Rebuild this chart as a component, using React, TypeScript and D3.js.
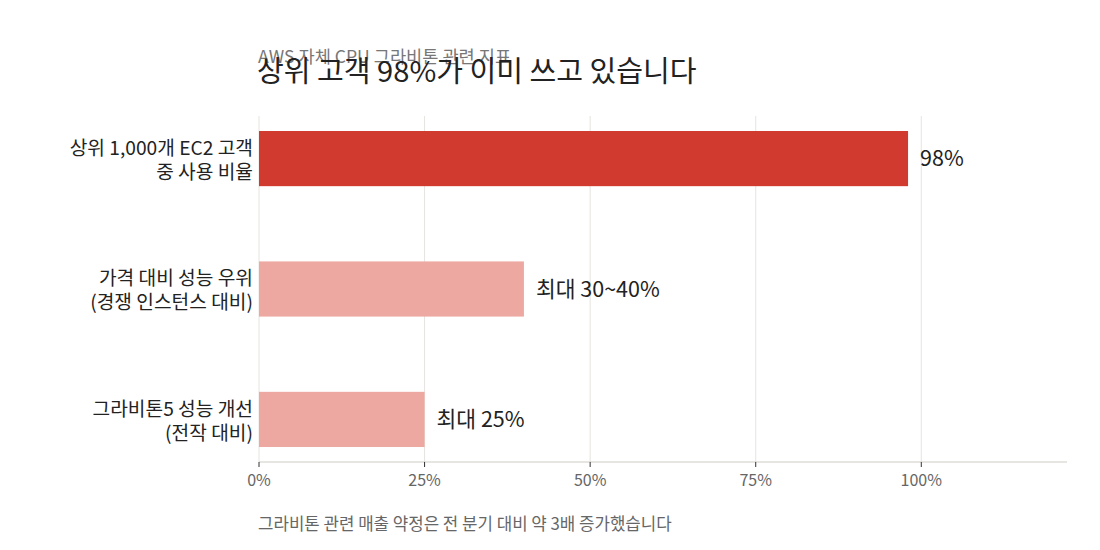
import React from "react";
import * as d3 from "d3";

const categories: string[][] = [
  ["상위 1,000개 EC2 고객", "중 사용 비율"],
  ["가격 대비 성능 우위", "(경쟁 인스턴스 대비)"],
  ["그라비톤5 성능 개선", "(전작 대비)"],
];
const values: number[] = [98, 40, 25];
const valueLabels: string[] = ["98%", "최대 30~40%", "최대 25%"];
const barColors: string[] = ["#d13a2f", "#eca8a1", "#eca8a1"];
const tickValues: number[] = [0, 25, 50, 75, 100];

const title = "상위 고객 98%가 이미 쓰고 있습니다";
const subtitle = "AWS 자체 CPU 그라비톤 관련 지표";
const footnote = "그라비톤 관련 매출 약정은 전 분기 대비 약 3배 증가했습니다";

const W = 1100;
const H = 550;
const left = 259;
const right = 1067;
const top = 116;
const bottom = 462;
const font = "'Noto Sans CJK KR', 'Noto Sans', sans-serif";

export default function App() {
  const x = d3.scaleLinear().domain([0, 122]).range([left, right]);
  const y = d3
    .scaleBand<number>()
    .domain(values.map((_, i) => i))
    .range([top, bottom])
    .paddingInner(0.577)
    .paddingOuter(0.115);

  return (
    <svg
      width={W}
      height={H}
      style={{ position: "absolute", left: 0, top: 0, background: "#fff" }}
      fontFamily={font}
    >
      {tickValues.map((t) => (
        <line key={"g" + t} x1={x(t)} x2={x(t)} y1={top} y2={bottom} stroke="#e6e4df" strokeWidth={1} />
      ))}
      {values.map((v, i) => (
        <rect key={"b" + i} x={x(0)} y={y(i)!} width={x(v) - x(0)} height={y.bandwidth()} fill={barColors[i]} />
      ))}
      {values.map((v, i) => (
        <text
          key={"v" + i}
          x={x(v) + 12}
          y={y(i)! + y.bandwidth() / 2}
          dy="0.35em"
          fontSize={21.5}
          fill="#222"
        >
          {valueLabels[i]}
        </text>
      ))}
      {categories.map((lines, i) => (
        <text key={"c" + i} x={253} y={y(i)! + y.bandwidth() / 2} fontSize={19.2} fill="#222" textAnchor="end">
          <tspan x={253} dy="-0.2em">{lines[0]}</tspan>
          <tspan x={253} dy="1.25em">{lines[1]}</tspan>
        </text>
      ))}
      <line x1={left} x2={right} y1={bottom} y2={bottom} stroke="#cfccc4" strokeWidth={1} />
      {tickValues.map((t) => (
        <g key={"t" + t}>
          <line x1={x(t)} x2={x(t)} y1={bottom} y2={bottom + 5} stroke="#333" strokeWidth={1} />
          <text x={x(t)} y={486} fontSize={16} fill="#666" textAnchor="middle">
            {t + "%"}
          </text>
        </g>
      ))}
      <text x={258} y={63} fontSize={17.6} fill="#777">{subtitle}</text>
      <text x={257} y={82} fontSize={29.1} fill="#222">{title}</text>
      <text x={258} y={530} fontSize={16.8} fill="#666">{footnote}</text>
    </svg>
  );
}
